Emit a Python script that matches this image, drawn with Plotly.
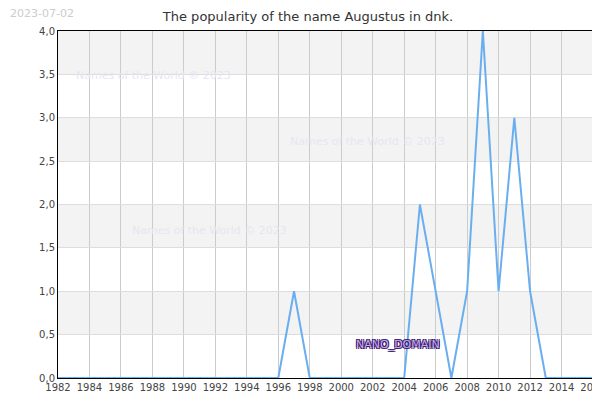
import plotly.graph_objects as go

years = list(range(1982, 2017))
# popularity per year
values = [0, 0, 0, 0, 0, 0, 0, 0, 0, 0, 0, 0, 0, 0, 0, 1, 0, 0, 0, 0, 0, 0, 0,
          2, 1, 0, 1, 4, 1, 3, 1, 0, 0, 0, 0]
y_ticks = [0, 0.5, 1, 1.5, 2, 2.5, 3, 3.5, 4]
y_labels = ["0,0", "0,5", "1,0", "1,5", "2,0", "2,5", "3,0", "3,5", "4,0"]
x_ticks = list(range(1982, 2017, 2))

fig = go.Figure()
fig.add_trace(go.Scatter(x=years, y=values, mode="lines",
                         line=dict(color="#6aaef0", width=2), hoverinfo="skip"))

# alternating grey bands
shapes = []
for i in range(1, len(y_ticks) - 1, 2):
    shapes.append(dict(type="rect", xref="paper", yref="y", x0=0, x1=1,
                       y0=y_ticks[i], y1=y_ticks[i + 1], fillcolor="#f3f3f3",
                       line_width=0, layer="below"))

wm = dict(showarrow=False, font=dict(size=11, color="#e6e6f2"))
outline = "1px 1px 0 #3a1a6a, -1px -1px 0 #3a1a6a, 1px -1px 0 #3a1a6a, -1px 1px 0 #3a1a6a"
annotations = [
    dict(x=0.03, y=0.895, xref="paper", yref="paper", xanchor="left",
         text="Names of the World © 2023", **wm),
    dict(x=0.43, y=0.705, xref="paper", yref="paper", xanchor="left",
         text="Names of the World © 2023", **wm),
    dict(x=0.135, y=0.425, xref="paper", yref="paper", xanchor="left",
         text="Names of the World © 2023", **wm),
    dict(x=2000.8, y=0.39, xanchor="left", showarrow=False, text="NANO_DOMAIN",
         font=dict(size=11, color="#c9a8f0", shadow=outline)),
    dict(x=-0.093, y=1.075, xref="paper", yref="paper", xanchor="left",
         yanchor="top", text="2023-07-02", showarrow=False,
         font=dict(size=11, color="#cccccc")),
]

fig.update_layout(
    width=600, height=400,
    margin=dict(l=50, r=15, t=23, b=30),
    plot_bgcolor="white", paper_bgcolor="white",
    font=dict(family="DejaVu Sans", size=10, color="#444"),
    title=dict(text="The popularity of the name Augustus in dnk.", x=0.5, y=0.99,
               yanchor="top", automargin=False, font=dict(size=13, color="#333")),
    showlegend=False, shapes=shapes, annotations=annotations,
    xaxis=dict(range=[1982, 2016], tickvals=x_ticks, showgrid=True, automargin=False,
               gridcolor="#cccccc", showline=True, linecolor="black", mirror=True,
               zeroline=False, ticks=""),
    yaxis=dict(range=[0, 4], tickvals=y_ticks, ticktext=y_labels, showgrid=True,
               automargin=False, gridcolor="#dddddd", showline=True,
               linecolor="black", mirror=True, zeroline=False, ticks=""),
)
fig.write_html("out.html")
